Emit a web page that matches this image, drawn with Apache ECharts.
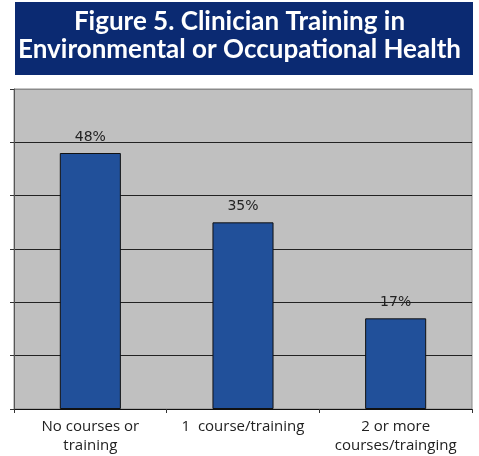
<!DOCTYPE html>
<html><head><meta charset="utf-8">
<script src="https://cdn.jsdelivr.net/npm/echarts@6/dist/echarts.min.js"></script>
<style>html,body{margin:0;padding:0;background:#fff}#c{width:479px;height:456px}</style>
</head><body><div id="c"></div>
<script>
const titleLines = ["Figure 5. Clinician Training in", "Environmental or Occupational Health"];
const categories = ["No courses or\ntraining", "1  course/training", "2 or more\ncourses/trainging"];
const values = [48, 35, 17];
const yMin = 0, yMax = 60, yInterval = 10;

const chart = echarts.init(document.getElementById('c'), null, {renderer: 'canvas'});
chart.setOption({
  animation: false,
  backgroundColor: '#ffffff',
  graphic: [
    {type: 'rect', left: 15, top: 2, shape: {width: 458, height: 73}, style: {fill: '#0b2a72'}, z: 0},
    {type: 'text', left: 'center', top: 8, style: {text: titleLines.join('\n'), fill: '#ffffff', font: 'bold 26px Lato', lineHeight: 28, textAlign: 'center'}, z: 1}
  ],
  grid: {left: 14, right: 7, top: 89, bottom: 47, show: true, backgroundColor: '#c0c0c0', borderColor: '#8a8a8a', borderWidth: 1},
  xAxis: {
    type: 'category', data: categories,
    axisLine: {lineStyle: {color: '#111', width: 1}},
    axisTick: {show: true, length: 4, lineStyle: {color: '#333'}},
    axisLabel: {color: '#222', fontSize: 15, fontFamily: '"Open Sans"', lineHeight: 19, margin: 8, interval: 0}
  },
  yAxis: {
    type: 'value', min: yMin, max: yMax, interval: yInterval,
    axisLine: {show: true, lineStyle: {color: '#555', width: 1}},
    axisTick: {show: true, length: 4, inside: false, lineStyle: {color: '#333'}},
    axisLabel: {show: false},
    splitLine: {show: true, lineStyle: {color: ['#222','#222','#222','#222','#222','#222','#8a8a8a'], width: 1}}
  },
  series: [{
    type: 'bar', data: values, barWidth: '40%',
    itemStyle: {color: '#21509a', borderColor: '#111', borderWidth: 1},
    label: {show: true, position: 'top', distance: 9, formatter: '{c}%', color: '#222', fontSize: 14, fontFamily: '"DejaVu Sans"'}
  }]
});
</script></body></html>
